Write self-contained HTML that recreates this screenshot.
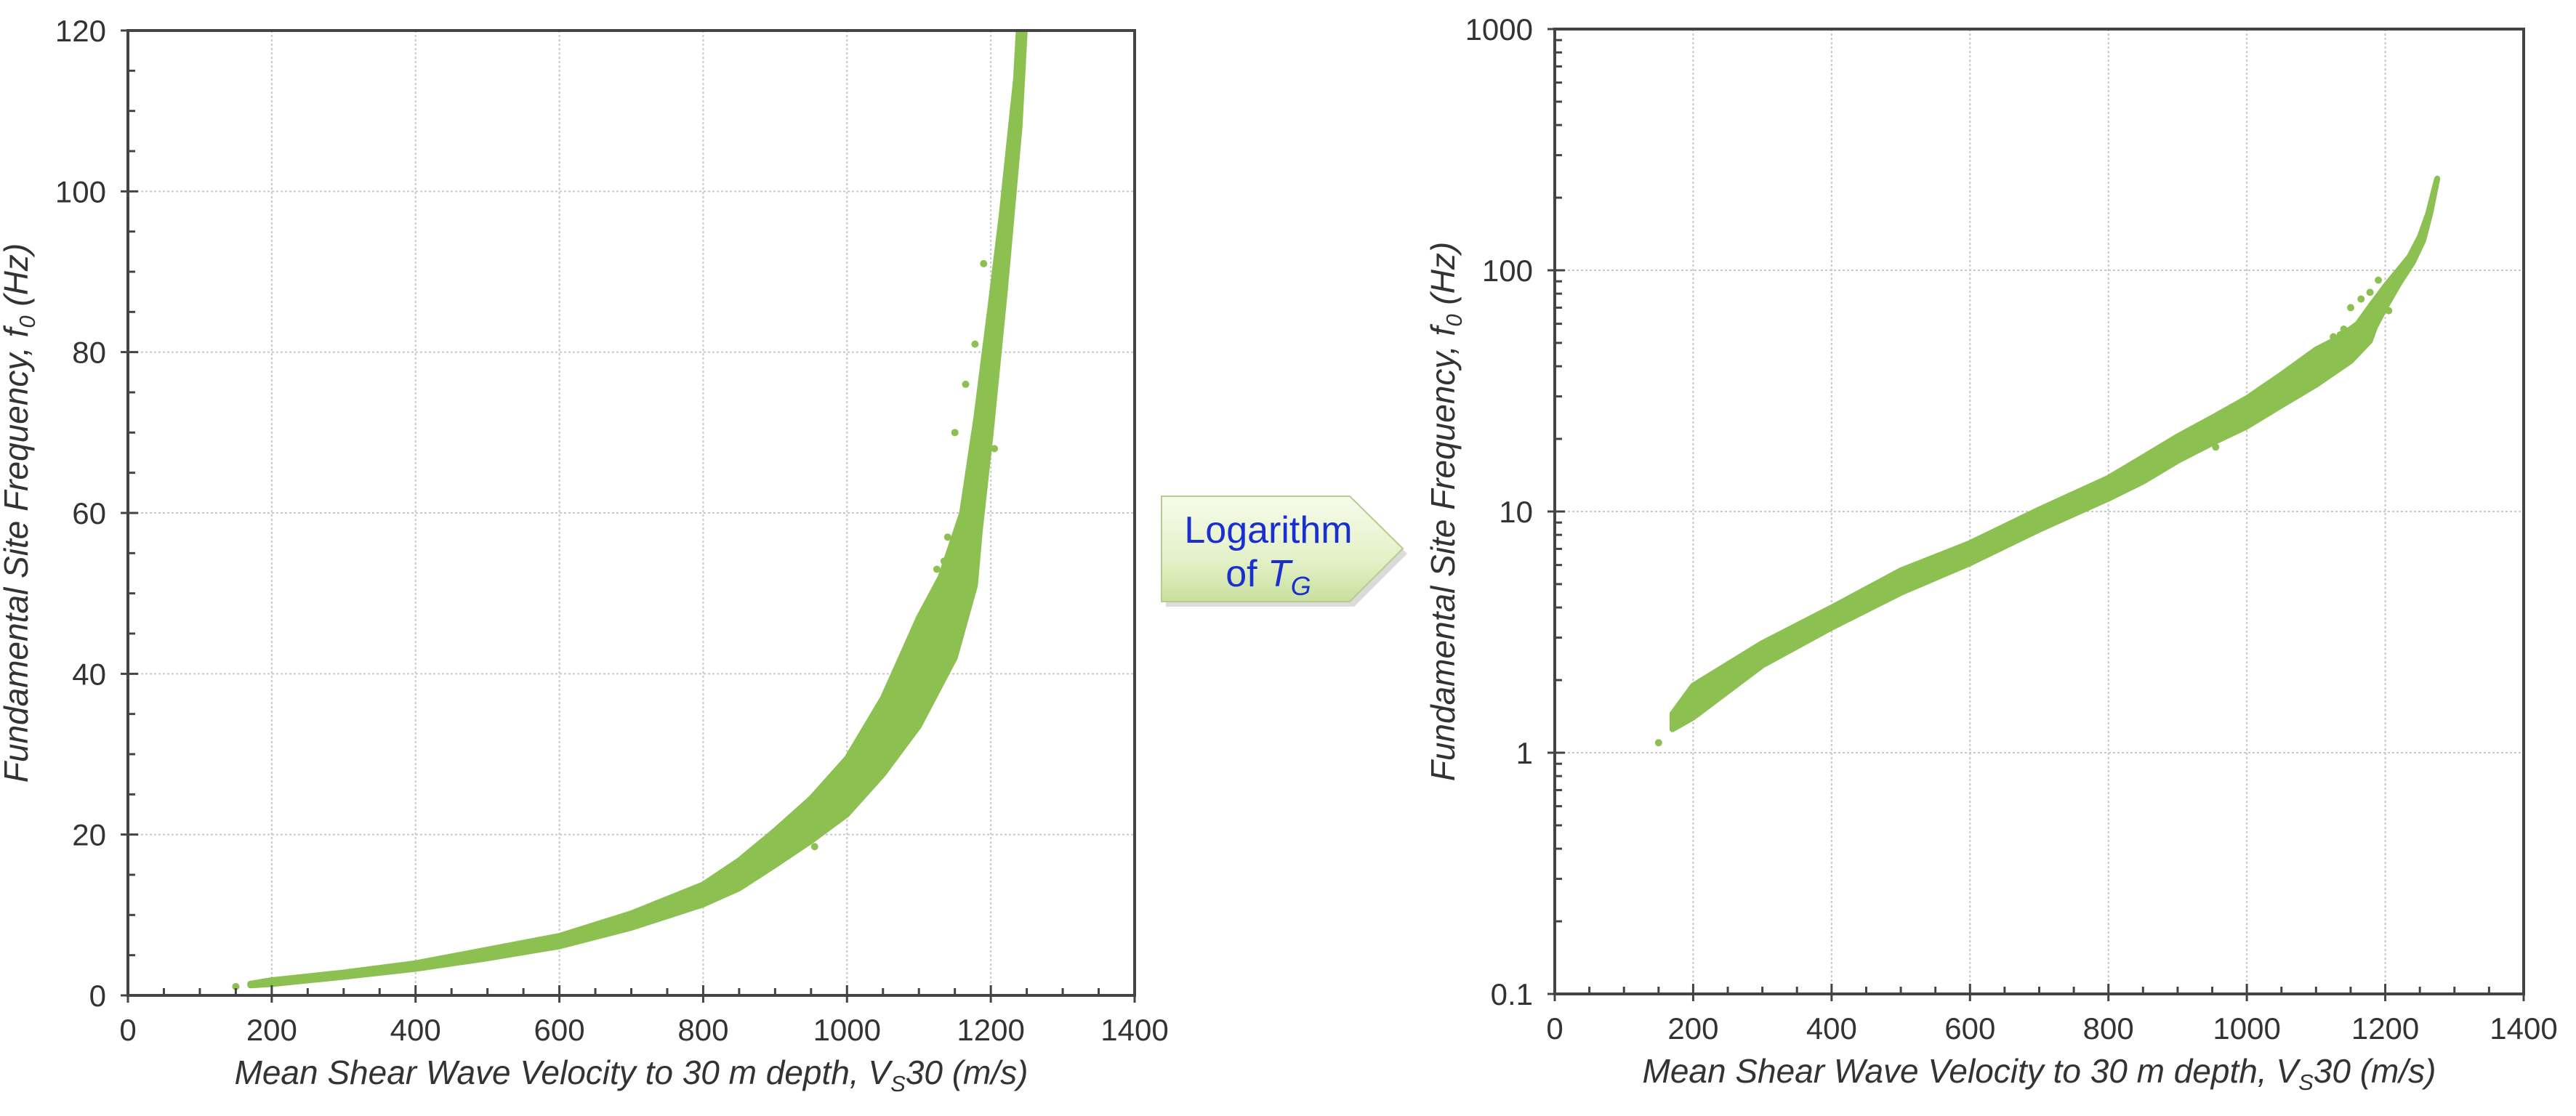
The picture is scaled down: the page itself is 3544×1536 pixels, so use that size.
<!DOCTYPE html>
<html><head><meta charset="utf-8"><style>
html,body{margin:0;padding:0;background:#fff;}
svg{display:block;font-family:"Liberation Sans",Arial,sans-serif;}
</style></head><body>
<svg id="fig" width="3544" height="1536" viewBox="0 0 3544 1536" xmlns="http://www.w3.org/2000/svg">
<defs>
<linearGradient id="arrowGrad" x1="0" y1="0" x2="0" y2="1">
<stop offset="0" stop-color="#f6fbea"/><stop offset="0.6" stop-color="#e4f1c8"/><stop offset="1" stop-color="#c9e09e"/>
</linearGradient>
<clipPath id="clipL"><rect x="176" y="42" width="1385" height="1328"/></clipPath>
<clipPath id="clipR"><rect x="2139" y="40" width="1333" height="1328"/></clipPath>
</defs>
<g id="left"></g>
<g id="right"></g>
<g>
<polygon points="1604,690 1863,690 1936,762 1863,835 1604,835" fill="#999" opacity="0.35"/>
<polygon points="1598,683 1857,683 1930,755 1857,828 1598,828" fill="url(#arrowGrad)" stroke="#b5cc8e" stroke-width="2"/>
<text x="1745" y="747" font-size="52" fill="#1a2fd0" text-anchor="middle">Logarithm</text>
<text x="1745" y="807" font-size="52" fill="#1a2fd0" text-anchor="middle">of <tspan font-style="italic">T</tspan><tspan font-style="italic" font-size="36" dy="12">G</tspan></text>
</g>
</svg>
<script>
// Data: envelope of the scatter band (Vs30 in m/s, f0 in Hz)
const vsUpper = [170, 200, 300, 400, 500, 600, 700, 800, 850, 900, 950, 1000, 1050, 1100, 1130, 1160, 1180, 1200, 1215, 1235, 1250, 1262, 1270, 1275];
const fUpper  = [1.45, 1.9, 2.85, 4.0, 5.7, 7.4, 10.2, 13.8, 16.8, 20.5, 24.5, 29.5, 37, 47, 52, 60, 72, 86, 97, 114, 138, 172, 212, 240];
const vsLower = [170, 200, 300, 400, 500, 600, 700, 800, 850, 900, 950, 1000, 1050, 1100, 1150, 1178, 1185, 1200, 1220, 1240, 1255, 1265, 1275];
const fLower  = [1.25, 1.4, 2.3, 3.3, 4.6, 6.1, 8.4, 11.3, 13.3, 16.2, 19.2, 22.5, 27.5, 33.5, 42, 51, 58, 70, 88, 108, 133, 172, 238];
const outVs = [150, 1178, 1165, 1150, 1140, 1190, 1205, 1125, 1135, 955];
const outF  = [1.1, 81, 76, 70, 57, 91, 68, 53, 54, 18.5];
const xTicks = [0, 200, 400, 600, 800, 1000, 1200, 1400];
const yTicksLin = [0, 20, 40, 60, 80, 100, 120];
const yTicksLog = [0.1, 1, 10, 100, 1000];
const yTickLogLabels = ["0.1", "1", "10", "100", "1000"];

const NS = "http://www.w3.org/2000/svg";
const GREEN = "#8cc152";
function mk(tag, attrs, parent) {
  const e = document.createElementNS(NS, tag);
  for (const k in attrs) e.setAttribute(k, attrs[k]);
  parent.appendChild(e);
  return e;
}

function drawChart(g, box, yScale, yTicks, yLabels, yMinor, clipId) {
  const xS = v => box.x0 + (v / 1400) * (box.x1 - box.x0);
  xTicks.forEach(t => {
    if (t > 0 && t < 1400) {
      const l = mk("line", {x1: xS(t), x2: xS(t), y1: box.y0, y2: box.y1, stroke: "#c8c8c8", "stroke-width": 2, "stroke-dasharray": "3,3"}, g);
      
      
    }
  });
  yTicks.forEach(t => {
    const y = yScale(t);
    if (y > box.y0 + 1 && y < box.y1 - 1) {
      const l = mk("line", {x1: box.x0, x2: box.x1, y1: y, y2: y, stroke: "#c8c8c8", "stroke-width": 2, "stroke-dasharray": "3,3"}, g);
      
      
    }
  });
  const pts = [];
  for (let i = 0; i < vsUpper.length; i++) pts.push(xS(vsUpper[i]).toFixed(1) + "," + yScale(fUpper[i]).toFixed(1));
  for (let i = vsLower.length - 1; i >= 0; i--) pts.push(xS(vsLower[i]).toFixed(1) + "," + yScale(fLower[i]).toFixed(1));
  const band = mk("polygon", {points: pts.join(" "), fill: GREEN, stroke: GREEN, "stroke-width": 8, "stroke-linejoin": "round", "clip-path": "url(#" + clipId + ")"}, g);
  
  
  for (let i = 0; i < outVs.length; i++) {
    const c = mk("circle", {cx: xS(outVs[i]), cy: yScale(outF[i]), r: 5, fill: GREEN, "clip-path": "url(#" + clipId + ")"}, g);
    
    
  }
  const fr = mk("rect", {x: box.x0, y: box.y0, width: box.x1 - box.x0, height: box.y1 - box.y0, fill: "none", stroke: "#444", "stroke-width": 4}, g);
  
  
  for (let v = 0; v <= 1400; v += 50) {
    const major = v % 200 === 0;
    const t = mk("line", {x1: xS(v), x2: xS(v), y1: box.y1 + (major ? 10 : 0), y2: box.y1 - (major ? 14 : 10), stroke: "#444", "stroke-width": 3}, g);
    
    
  }
  xTicks.forEach(v => {
    const tx = mk("text", {x: xS(v), y: box.y1 + 62, "font-size": 42, "text-anchor": "middle", fill: "#333"}, g);
    tx.textContent = String(v);
    
    
  });
  yMinor.forEach(v => {
    const y = yScale(v);
    const t = mk("line", {x1: box.x0, x2: box.x0 + 10, y1: y, y2: y, stroke: "#444", "stroke-width": 3}, g);
    
    
  });
  yTicks.forEach((v, i) => {
    const y = yScale(v);
    const t = mk("line", {x1: box.x0 - 10, x2: box.x0 + 14, y1: y, y2: y, stroke: "#444", "stroke-width": 3}, g);
    
    
    const tx = mk("text", {x: box.x0 - 30, y: y + 15, "font-size": 42, "text-anchor": "end", fill: "#333"}, g);
    tx.textContent = yLabels[i];
    
    
  });
  const xt = mk("text", {x: (box.x0 + box.x1) / 2, y: box.y1 + 122, "font-size": 46, "font-style": "italic", "text-anchor": "middle", fill: "#333"}, g);
  xt.innerHTML = 'Mean Shear Wave Velocity to 30 m depth, V<tspan font-size="31" dy="10">S</tspan><tspan dy="-10">30 (m/s)</tspan>';
  
  
  const cy = (box.y0 + box.y1) / 2;
  const tx0 = box.x0 - 138;
  const yt = mk("text", {x: tx0, y: cy, "font-size": 46, "font-style": "italic", "text-anchor": "middle", fill: "#333", transform: "rotate(-90 " + tx0 + " " + cy + ")"}, g);
  yt.innerHTML = 'Fundamental Site Frequency, f<tspan font-size="31" dy="10">0</tspan><tspan dy="-10"> (Hz)</tspan>';
  
  
}

const boxL = {x0: 176, x1: 1561, y0: 42, y1: 1370};
const yLin = v => boxL.y1 - (v / 120) * (boxL.y1 - boxL.y0);
const minorLin = [];
for (let v = 5; v < 120; v += 5) if (v % 20 !== 0) minorLin.push(v);
drawChart(document.getElementById("left"), boxL, yLin, yTicksLin, yTicksLin.map(String), minorLin, "clipL");

const boxR = {x0: 2139, x1: 3472, y0: 40, y1: 1368};
const yLog = v => boxR.y1 - ((Math.log10(v) + 1) / 4) * (boxR.y1 - boxR.y0);
const minorLog = [];
[0.1, 1, 10, 100].forEach(d => { for (let k = 2; k <= 9; k++) minorLog.push(d * k); });
drawChart(document.getElementById("right"), boxR, yLog, yTicksLog, yTickLogLabels, minorLog, "clipR");
</script>
</body></html>
